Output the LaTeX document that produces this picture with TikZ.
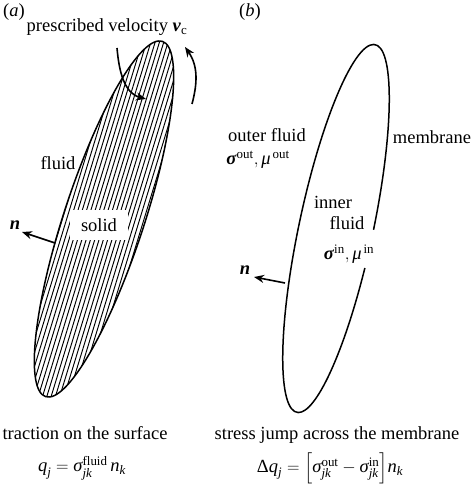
\documentclass[tikz,border=0pt]{standalone}
\usepackage{amsmath}
\usepackage{fontspec}
\setmainfont{Liberation Serif}
\usetikzlibrary{arrows.meta}
\tikzset{
  lbl/.style={font=\fontsize{18.5}{22}\selectfont, inner sep=0pt},
  flow/.style={-{Stealth[length=10pt, width=8pt]}, line width=1.6pt},
  rim/.style={line width=1.5pt},
  hatch/.style={line width=0.95pt}
}
\begin{document}
\begin{tikzpicture}[x=1pt, y=1pt]
  \useasboundingbox (0,0) rectangle (474,489);
  \begin{scope}
    \clip[rotate around={71.8:(104,270)}] (104,270) ellipse [x radius=187, y radius=40];
    \foreach \k in {-6,...,26}
      \draw[hatch] (\k*4.3, 80) -- ++(73:400);
  \end{scope}
  \draw[rim, rotate around={71.8:(104,270)}] (104,270) ellipse [x radius=187, y radius=40];
  \draw[rim, shift={(336,260.5)}, rotate=78] (-88:188 and 37)
    arc[start angle=-88, end angle=260, x radius=188, y radius=37];

  \node[lbl] (tagA) at (14,477) {(\textit{a})};
  \node[lbl] (tagB) at (250,477) {(\textit{b})};
  \node[lbl] (vel) at (107,462) {prescribed velocity $\textbf{\textit{v}}_{\text{c}}$};
  \node[lbl] (flA) at (58,326) {fluid};
  \node[lbl, fill=white, minimum width=58pt, minimum height=30pt] (sol) at (99,264) {solid};
  \node[lbl] (nL) at (15,264) {\textbf{\textit{n}}};

  \coordinate (r1s) at (117,441); \coordinate (r1e) at (146,390);
  \coordinate (r2s) at (192,385); \coordinate (r2e) at (185,442);
  \draw[flow] (r1s) to[out=-85, in=165] (r1e);
  \draw[flow] (r2s) to[out=75, in=-55] (r2e);
  \coordinate (nA) at (55,246); \coordinate (tipA) at (22,257);
  \draw[flow] (nA) -- (tipA);

  \node[lbl] (outer) at (267,354) {outer fluid};
  \node[lbl] (sout) at (258,329) {$\textbf{\textit{σ}}^{\text{out}}, \textit{μ}^{\,\text{out}}$};
  \node[lbl] (mem) at (432,352) {membrane};
  \node[lbl] (inner) at (333,287) {inner};
  \node[lbl] (flB) at (347,266) {fluid};
  \node[lbl] (sin) at (349,235) {$\textbf{\textit{σ}}^{\text{in}}, \textit{μ}^{\,\text{in}}$};
  \node[lbl] (nR) at (245,219) {\textbf{\textit{n}}};
  \coordinate (nB) at (285,206); \coordinate (tipB) at (254,212);
  \draw[flow] (nB) -- (tipB);

  \node[lbl] (capA) at (85,56) {traction on the surface};
  \node[lbl] (eqA) at (82,21) {$\textit{q}_{\textit{j}} = \textit{σ}^{\text{fluid}}_{\textit{jk}}\,\textit{n}_{\textit{k}}$};
  \node[lbl] (capB) at (337,54) {stress jump across the membrane};
  \node[lbl] (eqB) at (330,21) {$\text{Δ}\textit{q}_{\textit{j}} = \Bigl[\textit{σ}^{\text{out}}_{\textit{jk}} - \textit{σ}^{\text{in}}_{\textit{jk}}\Bigr]\textit{n}_{\textit{k}}$};
\end{tikzpicture}
\end{document}
